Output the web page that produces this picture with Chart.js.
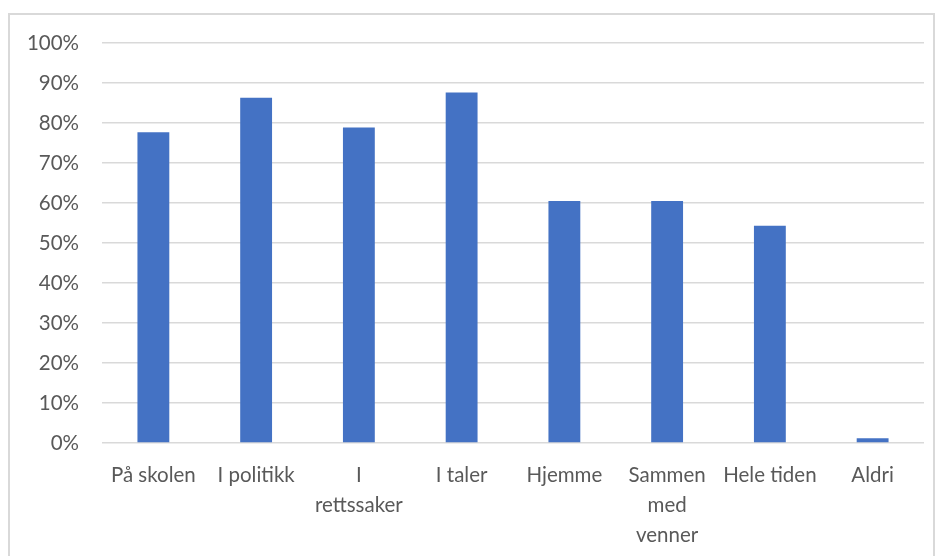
<!DOCTYPE html>
<html>
<head>
<meta charset="utf-8">
<script src="https://cdn.jsdelivr.net/npm/chart.js@4"></script>
<style>
  html, body { margin: 0; padding: 0; background: #fff; }
  #wrap { position: relative; width: 940px; height: 556px; overflow: hidden; }
  #frame { position: absolute; left: 8px; top: 13px; width: 927px; height: 600px; border: 2px solid #d9d9d9; box-sizing: border-box; }
  canvas { position: absolute; left: 0; top: 0; }
</style>
</head>
<body>
<div id="wrap">
  <div id="frame"></div>
  <canvas id="chart" width="940" height="556"></canvas>
</div>
<script>
const categories = ['På skolen', 'I politikk', ['I', 'rettssaker'], 'I taler', 'Hjemme', ['Sammen', 'med', 'venner'], 'Hele tiden', 'Aldri'];
const values = [77.7, 86.3, 78.9, 87.6, 60.5, 60.5, 54.3, 1.2];
const yTicks = [0, 10, 20, 30, 40, 50, 60, 70, 80, 90, 100];

const textColor = '#595959';
const gridColor = '#d9d9d9';

new Chart(document.getElementById('chart').getContext('2d'), {
  type: 'bar',
  data: {
    labels: categories,
    datasets: [{
      data: values,
      backgroundColor: '#4472C4',
      categoryPercentage: 1,
      barPercentage: 0.31
    }]
  },
  options: {
    responsive: false,
    animation: false,
    layout: { padding: { top: 43, right: 16, bottom: 0, left: 0 } },
    plugins: {
      legend: { display: false },
      tooltip: { enabled: false }
    },
    scales: {
      x: {
        grid: { display: false },
        border: { display: false },
        ticks: {
          color: textColor,
          font: { family: 'Lato', size: 20.5, lineHeight: 1.45 },
          padding: 10,
          maxRotation: 0,
          autoSkip: false
        },
        afterFit: scale => { scale.height = 113; }
      },
      y: {
        min: 0,
        max: 100,
        afterBuildTicks: scale => { scale.ticks = yTicks.map(v => ({ value: v })); },
        grid: { color: gridColor, lineWidth: 1.5, drawTicks: false },
        border: { display: false },
        ticks: {
          color: textColor,
          font: { family: 'Lato', size: 20.5 },
          padding: 23,
          callback: v => v + '%'
        },
        afterFit: scale => { scale.width = 102; }
      }
    }
  }
});
</script>
</body>
</html>
